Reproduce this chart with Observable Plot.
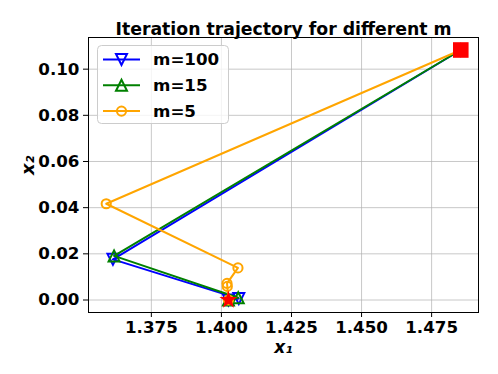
<!DOCTYPE html>
<html><head><meta charset="utf-8">
<script src="https://cdn.jsdelivr.net/npm/d3@7"></script>
<script src="https://cdn.jsdelivr.net/npm/@observablehq/plot@0.6"></script>
<style>
body{margin:0;background:#fff}
#wrap{position:relative;width:498px;height:374px;font-family:"DejaVu Sans",sans-serif}
#legend{position:absolute;left:0;top:0;pointer-events:none}
</style>
</head><body><div id="wrap"></div>
<script>
// ---- data ----
const titleText = "Iteration trajectory for different m";
const seriesLabels = ["m=100", "m=15", "m=5"];
const seriesColors = ["blue", "green", "orange"];
const x1_m100 = [1.4854, 1.3613, 1.4062, 1.4025];
const x2_m100 = [0.1083, 0.0176, 0.0006, 0.0000];
const x1_m15  = [1.4854, 1.3617, 1.4060, 1.4025];
const x2_m15  = [0.1083, 0.0191, 0.0010, 0.0000];
const x1_m5   = [1.4854, 1.3589, 1.4059, 1.4020, 1.4021, 1.4025];
const x2_m5   = [0.1083, 0.0417, 0.0139, 0.0072, 0.0059, 0.0000];
const startPt = {x1: 1.4854, x2: 0.1083};
const optPt   = {x1: 1.4025, x2: 0.0000};
const xTicks = [1.375, 1.400, 1.425, 1.450, 1.475];
const yTicks = [0.00, 0.02, 0.04, 0.06, 0.08, 0.10];

// ---- symbols (matplotlib-like) ----
const triDown = {draw(c, s){const r=Math.sqrt(s/Math.PI); c.moveTo(0,r); c.lineTo(-r,-r); c.lineTo(r,-r); c.closePath();}};
const triUp = {draw(c, s){const r=Math.sqrt(s/Math.PI); c.moveTo(0,-r); c.lineTo(-r,r); c.lineTo(r,r); c.closePath();}};
const circ = {draw(c, s){const r=Math.sqrt(s/Math.PI); c.moveTo(r,0); c.arc(0,0,r,0,2*Math.PI);}};
const sq = {draw(c, s){const r=Math.sqrt(s/Math.PI); c.rect(-r,-r,2*r,2*r);}};
const star = {draw(c, s){const R=Math.sqrt(s/Math.PI), ri=R*0.381966;
  for(let i=0;i<10;i++){const a=-Math.PI/2+i*Math.PI/5, rr=i%2?ri:R; const px=rr*Math.cos(a), py=rr*Math.sin(a); i?c.lineTo(px,py):c.moveTo(px,py);} c.closePath();}};
const seriesSymbols = [triDown, triUp, circ];
const seriesR = [5.5, 5.5, 4.6];

const series = [[x1_m100,x2_m100],[x1_m15,x2_m15],[x1_m5,x2_m5]].map(([xs,ys],i)=>
  xs.map((x,j)=>({x1:x, x2:ys[j], s:seriesLabels[i]})));

// ---- domains with 5% margin (matplotlib-like) ----
const allX = [...x1_m100,...x1_m15,...x1_m5], allY=[...x2_m100,...x2_m15,...x2_m5];
const [xa,xb]=d3.extent(allX), [ya,yb]=d3.extent(allY);
const px=(xb-xa)*0.05, py=(yb-ya)*0.05;

const fs = 16.7;
const marks = [
  Plot.gridX(xTicks, {stroke:"#b0b0b0", strokeOpacity:0.7, strokeWidth:1}),
  Plot.gridY(yTicks, {stroke:"#b0b0b0", strokeOpacity:0.7, strokeWidth:1}),
  Plot.axisX(xTicks, {tickFormat:d3.format(".3f"), tickSize:5, tickPadding:4, fontSize:fs, fontWeight:"bold", label:null, stroke:"black", fill:"black"}),
  Plot.axisY(yTicks, {tickFormat:d3.format(".2f"), tickSize:5, tickPadding:4, fontSize:fs, fontWeight:"bold", label:null, stroke:"black", fill:"black"}),
];
series.forEach((d,i)=>{
  marks.push(Plot.line(d, {x:"x1", y:"x2", stroke:seriesColors[i], strokeWidth:2}));
  marks.push(Plot.dot(d, {x:"x1", y:"x2", stroke:seriesColors[i], fill:"none", strokeWidth:2, symbol:seriesSymbols[i], r:seriesR[i]}));
});
marks.push(
  Plot.dot([startPt], {x:"x1", y:"x2", fill:"red", symbol:sq, r:7.8}),
  Plot.dot([optPt], {x:"x1", y:"x2", fill:"red", symbol:star, r:9.5}),
  Plot.frame({stroke:"black", strokeWidth:1}),
  Plot.text([titleText], {text:d=>d, frameAnchor:"top", dy:-15, fontSize:17.3, fontWeight:"bold", fill:"black"}),
  Plot.text(["x₁"], {text:d=>d, frameAnchor:"bottom", dy:40, fontSize:17, fontWeight:"bold", fontStyle:"italic", fill:"black"}),
  Plot.text(["x₂"], {text:d=>d, frameAnchor:"left", dx:-60, rotate:-90, fontSize:18, fontWeight:"bold", fontStyle:"italic", fill:"black"})
);

const chart = Plot.plot({
  width:498, height:374, marginLeft:88, marginRight:20, marginTop:37, marginBottom:62,
  style:{fontFamily:"DejaVu Sans", background:"white", color:"black"},
  x:{domain:[xa-px, xb+px]}, y:{domain:[ya-py, yb+py]},
  marks
});
const wrap = document.getElementById("wrap");
wrap.appendChild(chart);

// ---- legend overlay ----
const lg = d3.select(wrap).append("svg").attr("id","legend").attr("width",498).attr("height",374);
lg.append("rect").attr("x",97.5).attr("y",45.5).attr("width",131).attr("height",78).attr("rx",4)
  .attr("fill","white").attr("fill-opacity",0.8).attr("stroke","#cccccc");
seriesLabels.forEach((lab,i)=>{
  const yy = 59.5 + i*25.8;
  lg.append("line").attr("x1",103).attr("x2",140).attr("y1",yy).attr("y2",yy).attr("stroke",seriesColors[i]).attr("stroke-width",2);
  const r = seriesR[i];
  lg.append("path").attr("d", d3.symbol(seriesSymbols[i], Math.PI*r*r)()).attr("transform",`translate(121.5,${yy})`)
    .attr("fill","none").attr("stroke",seriesColors[i]).attr("stroke-width",2);
  lg.append("text").attr("x",153).attr("y",yy).attr("dy","0.35em").attr("font-size",fs).attr("font-weight","bold")
    .attr("font-family","DejaVu Sans").attr("fill","black").text(lab);
});
</script>
</body></html>
